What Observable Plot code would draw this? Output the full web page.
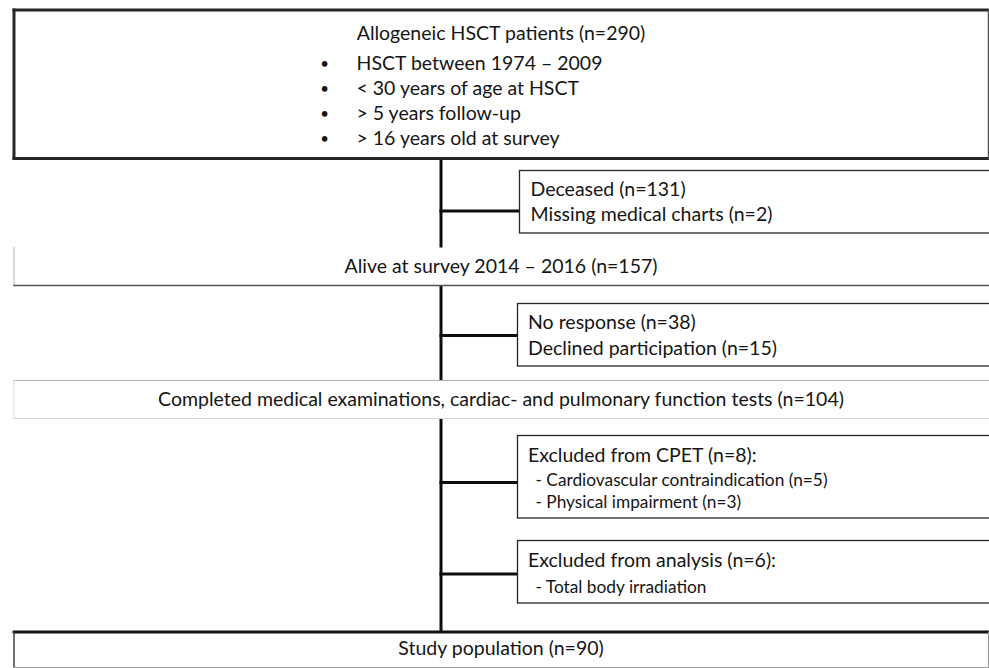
<!DOCTYPE html>
<html>
<head>
<meta charset="utf-8">
<script src="https://cdn.jsdelivr.net/npm/d3@7"></script>
<script src="https://cdn.jsdelivr.net/npm/@observablehq/plot@0.6"></script>
<style>
  html, body { margin: 0; padding: 0; background: #fff; }
  #chart svg { display: block; }
</style>
</head>
<body>
<div id="chart"></div>
<script>
// ---- Chart content (flow of participants) ----
const stageLabels = [
  "Allogeneic HSCT patients (n=290)",
  "Alive at survey 2014 – 2016 (n=157)",
  "Completed medical examinations, cardiac- and pulmonary function tests (n=104)",
  "Study population (n=90)"
];
const eligibilityCriteria = [
  "HSCT between 1974 – 2009",
  "< 30 years of age at HSCT",
  "> 5 years follow-up",
  "> 16 years old at survey"
];
const excludedFirst = ["Deceased (n=131)", "Missing medical charts (n=2)"];
const excludedSecond = ["No response (n=38)", "Declined participation (n=15)"];
const excludedCpetHeader = "Excluded from CPET (n=8):";
const excludedCpetReasons = ["- Cardiovascular contraindication (n=5)", "- Physical impairment (n=3)"];
const excludedAnalysisHeader = "Excluded from analysis (n=6):";
const excludedAnalysisReasons = ["- Total body irradiation"];

// ---- Layout (diagram geometry, in page pixels) ----
const W = 989, H = 668;
const FONT = "Lato, 'Open Sans', sans-serif";
const MAIN = 19.5, SUB = 17.3, BULLET = 15;
const ink = "#151515";
const spineX = 440.5;
const sideLeft = 517.5, sideRight = 992;

const mainBoxes = [
  {x1: 13.5, x2: 988, y1: 9.5, y2: 158},
  {x1: 13.5, x2: 992, y1: 247, y2: 285},
  {x1: 13.5, x2: 992, y1: 380, y2: 418},
  {x1: 13.5, x2: 988, y1: 631.5, y2: 667}
];
const mainTextY = [33, 266.5, 399, 648.5];

const sideBoxes = [
  {x1: 519.5, y1: 170.5, y2: 233, link: 210.5},
  {x1: sideLeft, y1: 303.5, y2: 366, link: 335},
  {x1: sideLeft, y1: 435.5, y2: 518, link: 482},
  {x1: sideLeft, y1: 540.5, y2: 603, link: 573.5}
];

// box edges: [x1, y1, x2, y2, stroke, width]
const edges = [
  [13.5, 9.5, 988, 9.5, "#262626", 3], [13.5, 158, 988, 158, "#262626", 3],
  [13.5, 9.5, 13.5, 158, "#262626", 3], [988, 9.5, 988, 158, "#555", 1.5],
  [13.5, 247, 13.5, 285, "#c4c4c4", 1.2], [13.5, 285, 992, 285, "#555", 1.5],
  [13.5, 380, 992, 380, "#b4b4b4", 1.2], [13.5, 418, 992, 418, "#d6d6d6", 1.2],
  [13.5, 380, 13.5, 418, "#dcdcdc", 1],
  [13.5, 631.5, 988, 631.5, "#111", 3], [13.5, 631.5, 13.5, 667, "#444", 1.5],
  [13.5, 667, 988, 667, "#9a9a9a", 1.2], [988, 631.5, 988, 667, "#9a9a9a", 1.2]
].map(([x1, y1, x2, y2, stroke, sw]) => ({x1, y1, x2, y2, stroke, sw}));

const spine = [
  {y1: 158, y2: 247}, {y1: 285, y2: 380}, {y1: 418, y2: 631.5}
];

// text rows
const textRows = [];
mainTextY.forEach((y, i) => textRows.push({x: 500.5, y, text: stageLabels[i], anchor: "middle", size: MAIN}));
const bulletY = [63, 88, 113, 138];
const bulletRows = eligibilityCriteria.map((t, i) => ({x: 324, y: bulletY[i] + 1, text: "•"}));
eligibilityCriteria.forEach((t, i) => {
  textRows.push({x: 356, y: bulletY[i], text: t, anchor: "start", size: MAIN});
});
textRows.push({x: 530, y: 189, text: excludedFirst[0], anchor: "start", size: MAIN});
textRows.push({x: 530, y: 214, text: excludedFirst[1], anchor: "start", size: MAIN});
textRows.push({x: 527.5, y: 322.5, text: excludedSecond[0], anchor: "start", size: MAIN});
textRows.push({x: 527.5, y: 348, text: excludedSecond[1], anchor: "start", size: MAIN});
textRows.push({x: 527.5, y: 455, text: excludedCpetHeader, anchor: "start", size: MAIN});
[480, 502].forEach((y, i) => textRows.push({x: 535, y, text: excludedCpetReasons[i], anchor: "start", size: SUB}));
textRows.push({x: 527.5, y: 560, text: excludedAnalysisHeader, anchor: "start", size: MAIN});
[587].forEach((y, i) => textRows.push({x: 535, y, text: excludedAnalysisReasons[i], anchor: "start", size: SUB}));

const chart = Plot.plot({
  width: W,
  height: H,
  margin: 0,
  x: {domain: [0, W], range: [0, W], axis: null},
  y: {domain: [0, H], range: [0, H], axis: null},
  style: {fontFamily: FONT, background: "white", overflow: "hidden"},
  marks: [
    Plot.rect(mainBoxes, {x1: "x1", x2: "x2", y1: "y1", y2: "y2", fill: "white"}),
    Plot.link(spine, {x1: spineX, x2: spineX, y1: "y1", y2: "y2", stroke: "#0d0d0d", strokeWidth: 3, strokeLinecap: "butt"}),
    Plot.link(sideBoxes, {x1: spineX - 1.5, x2: "x1", y1: "link", y2: "link", stroke: "#0d0d0d", strokeWidth: 3}),
    Plot.rect(sideBoxes, {x1: "x1", x2: sideRight, y1: "y1", y2: "y2", fill: "white", stroke: "#262626", strokeWidth: 1.3}),
    Plot.link(edges, {x1: "x1", y1: "y1", x2: "x2", y2: "y2", stroke: d => d.stroke, strokeWidth: d => d.sw, strokeLinecap: "square"}),
    Plot.text(bulletRows, {x: "x", y: "y", text: "text", textAnchor: "middle", fontSize: BULLET, fill: ink}),
    Plot.text(textRows.filter(d => d.anchor === "middle" && d.size === MAIN), {x: "x", y: "y", text: "text", textAnchor: "middle", fontSize: MAIN, fill: ink}),
    Plot.text(textRows.filter(d => d.anchor === "start" && d.size === MAIN), {x: "x", y: "y", text: "text", textAnchor: "start", fontSize: MAIN, fill: ink}),
    Plot.text(textRows.filter(d => d.size === SUB), {x: "x", y: "y", text: "text", textAnchor: "start", fontSize: SUB, fill: ink, letterSpacing: "-0.15px"})
  ]
});
document.getElementById("chart").appendChild(chart);
</script>
</body>
</html>
